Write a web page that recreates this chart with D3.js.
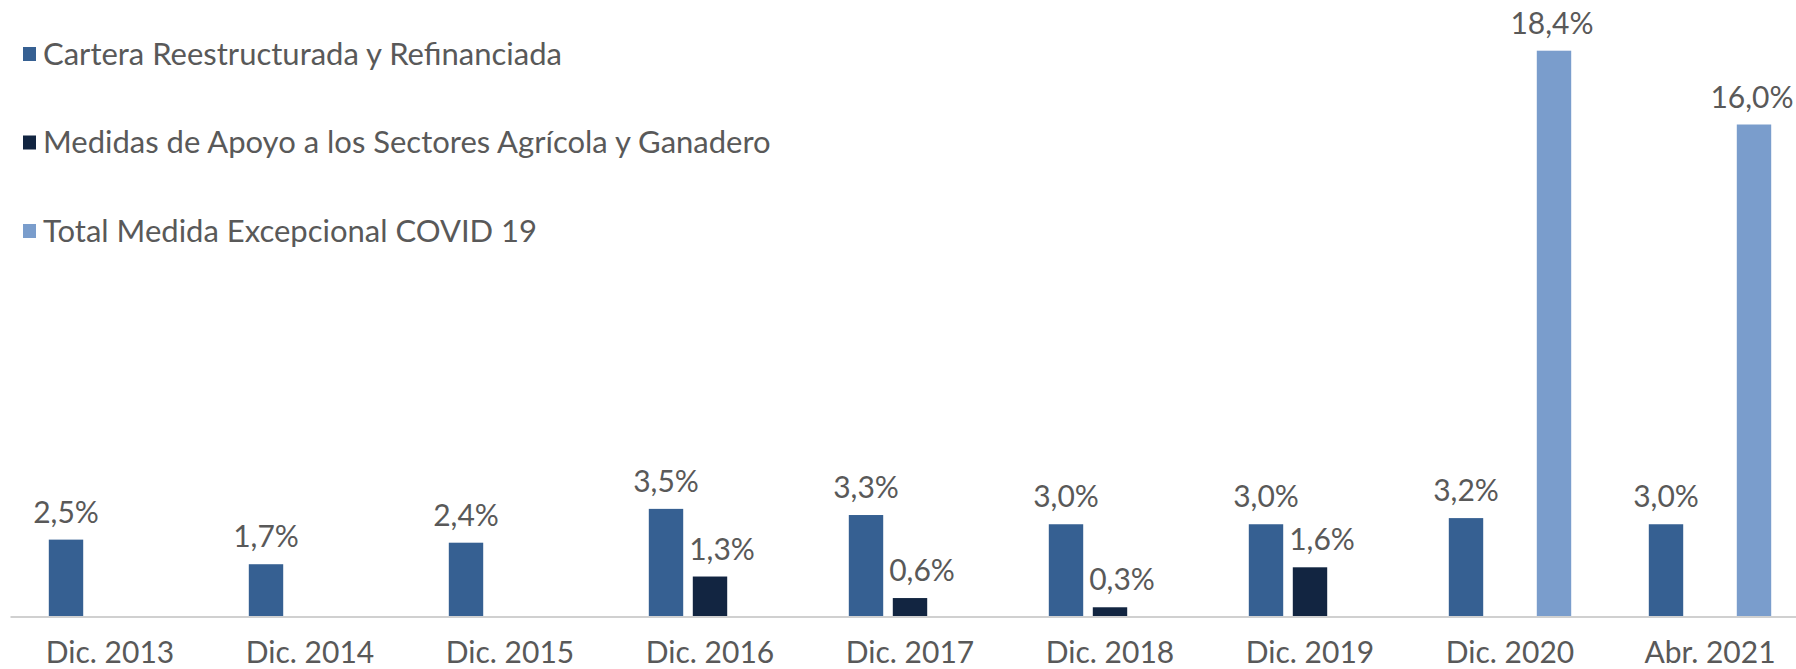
<!DOCTYPE html>
<html>
<head>
<meta charset="utf-8">
<script src="https://cdn.jsdelivr.net/npm/d3@7"></script>
<style>
  html, body { margin: 0; padding: 0; background: #fff; }
  svg { display: block; font-family: Lato, "Open Sans", sans-serif; }
</style>
</head>
<body>
<svg id="chart"></svg>
<script>
const categories = ["Dic. 2013", "Dic. 2014", "Dic. 2015", "Dic. 2016", "Dic. 2017",
                    "Dic. 2018", "Dic. 2019", "Dic. 2020", "Abr. 2021"];
const seriesNames = ["Cartera Reestructurada y Refinanciada",
                     "Medidas de Apoyo a los Sectores Agrícola y Ganadero",
                     "Total Medida Excepcional COVID 19"];
// null = no bar for that year
const cartera  = [2.5, 1.7, 2.4, 3.5, 3.3, 3.0, 3.0, 3.2, 3.0];
const medidas  = [null, null, null, 1.3, 0.6, 0.3, 1.6, null, null];
const covid    = [null, null, null, null, null, null, null, 18.4, 16.0];
const colors   = ["#366092", "#122541", "#7a9dcc"];

const width = 1796, height = 669;
const baseY = 616.5;

const svg = d3.select("#chart").attr("width", width).attr("height", height);

const x0 = d3.scaleBand()
    .domain(categories)
    .range([10, 1810])
    .paddingInner(0.388)
    .paddingOuter(0.194);

const x1 = d3.scaleBand()
    .domain(d3.range(3))
    .range([0, x0.bandwidth()])
    .paddingInner(0.218)
    .paddingOuter(0);

const y = d3.scaleLinear().domain([0, 20]).range([baseY, 1.5]);

const allSeries = [cartera, medidas, covid];
const bars = [];
allSeries.forEach((vals, s) => {
    vals.forEach((v, i) => {
        if (v !== null) bars.push({cat: categories[i], s: s, value: v});
    });
});

const fmt = v => v.toFixed(1).replace(".", ",") + "%";
// the middle series labels sit a little to the right of their bars
const labelShift = [0, 12, -2];

svg.append("g")
    .selectAll("rect")
    .data(bars)
    .enter()
    .append("rect")
    .attr("x", d => x0(d.cat) + x1(d.s))
    .attr("y", d => y(d.value))
    .attr("width", x1.bandwidth())
    .attr("height", d => y(0) - y(d.value))
    .attr("fill", d => colors[d.s]);

svg.append("g")
    .selectAll("text")
    .data(bars)
    .enter()
    .append("text")
    .attr("x", d => x0(d.cat) + x1(d.s) + x1.bandwidth() / 2 + labelShift[d.s])
    .attr("y", d => y(d.value) - 17)
    .attr("text-anchor", "middle")
    .attr("fill", "#595959")
    .attr("font-size", 30)
    .text(d => fmt(d.value));

// x axis
const xAxis = svg.append("g")
    .attr("transform", `translate(0,${baseY})`)
    .call(d3.axisBottom(x0).tickSize(0).tickPadding(0));

xAxis.select(".domain")
    .attr("stroke", "#d0d0d0")
    .attr("stroke-width", 2);

xAxis.selectAll("text")
    .attr("y", 46)
    .attr("dy", null)
    .attr("fill", "#595959")
    .attr("font-size", 30)
    .attr("font-family", "Lato, sans-serif");

// legend
const legend = svg.append("g")
    .selectAll("g")
    .data(seriesNames)
    .enter()
    .append("g")
    .attr("transform", (d, i) => `translate(23,${54 + i * 88.5})`);

legend.append("rect")
    .attr("x", 0)
    .attr("y", -7)
    .attr("width", 13)
    .attr("height", 14)
    .attr("fill", (d, i) => colors[i]);

legend.append("text")
    .attr("x", 20)
    .attr("y", 0)
    .attr("dy", "0.35em")
    .attr("fill", "#595959")
    .attr("font-size", 31)
    .text(d => d);
</script>
</body>
</html>
